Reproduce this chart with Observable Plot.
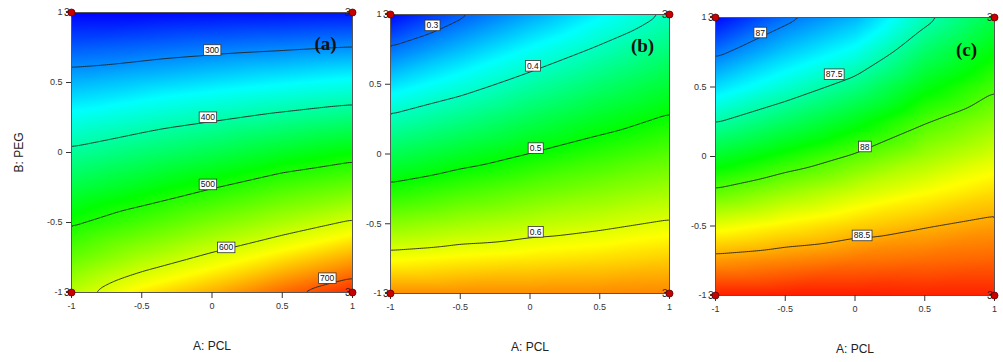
<!DOCTYPE html>
<html><head><meta charset="utf-8">
<script src="https://cdn.jsdelivr.net/npm/d3@7"></script>
<script src="https://cdn.jsdelivr.net/npm/@observablehq/plot@0.6"></script>
<style>
body{margin:0;background:#fff;}
#wrap{position:relative;width:1003px;height:362px;overflow:hidden;background:#fff;}
#wrap svg{position:absolute;top:0;}
</style></head><body><div id="wrap"></div>
<script>
// grid coordinates (coded factor levels)
const gridA = [-1, -0.5, 0, 0.5, 1];
const gridB = [1, 0.75, 0.5, 0.25, 0, -0.25, -0.5, -0.75, -1];

// panel (a): rows = B (top to bottom), columns = A
const valuesA = [
  [231, 232, 236, 238, 241],
  [275, 281, 289, 295, 301],
  [319, 330, 341, 352, 362],
  [363, 379, 394, 409, 422],
  [407, 427, 446, 467, 484],
  [451, 474, 498, 524, 544],
  [494, 523, 553, 579, 605],
  [539, 577, 608, 637, 665],
  [588, 634, 663, 696, 725]
];
const valuesB = [
  [0.252, 0.293, 0.328, 0.366, 0.404],
  [0.304, 0.338, 0.372, 0.405, 0.438],
  [0.355, 0.384, 0.415, 0.444, 0.472],
  [0.407, 0.431, 0.458, 0.483, 0.505],
  [0.458, 0.480, 0.501, 0.520, 0.538],
  [0.509, 0.527, 0.543, 0.557, 0.571],
  [0.561, 0.573, 0.584, 0.593, 0.604],
  [0.612, 0.619, 0.624, 0.629, 0.636],
  [0.664, 0.664, 0.664, 0.665, 0.667]
];
const valuesC = [
  [86.69, 86.95, 87.12, 87.45, 87.70],
  [86.96, 87.17, 87.34, 87.63, 87.84],
  [87.22, 87.40, 87.57, 87.81, 87.98],
  [87.49, 87.64, 87.80, 87.99, 88.12],
  [87.76, 87.89, 88.02, 88.15, 88.26],
  [88.02, 88.13, 88.23, 88.32, 88.40],
  [88.29, 88.36, 88.43, 88.49, 88.54],
  [88.55, 88.59, 88.63, 88.65, 88.67],
  [88.82, 88.82, 88.82, 88.81, 88.81]
];

// contour levels
const levelsA = [300, 400, 500, 600, 700];
const levelsB = [0.3, 0.4, 0.5, 0.6];
const levelsC = [87, 87.5, 88, 88.5];

// contour label texts and their positions (A, B)
const labelTextA = ["300", "400", "500", "600", "700"];
const labelPosA_A = [0, -0.03, -0.03, 0.1, 0.82];
const labelPosA_B = [0.73, 0.25, -0.23, -0.68, -0.9];
const labelTextB = ["0.3", "0.4", "0.5", "0.6"];
const labelPosB_A = [-0.7, 0.02, 0.04, 0.04];
const labelPosB_B = [0.92, 0.63, 0.04, -0.56];
const labelTextC = ["87", "87.5", "88", "88.5"];
const labelPosC_A = [-0.68, -0.15, 0.07, 0.05];
const labelPosC_B = [0.89, 0.59, 0.07, -0.57];

// colour scale stops (value -> blue, cyan, green, yellow, red)
const colorStops = ["#0000ff", "#00ffff", "#00ff00", "#ffff00", "#ff0000"];
const colorDomainA = [231, 355, 485, 625, 745];
const colorDomainB = [0.25, 0.37, 0.5, 0.615, 0.725];
const colorDomainC = [86.68, 87.3, 87.85, 88.33, 88.88];

// design points (corners) with replicate counts
const cornerA = [-1, 1, -1, 1];
const cornerB = [1, 1, -1, -1];
const cornerN = ["3", "3", "3", "3"];

// ticks
const xTicks = [-1, -0.5, 0, 0.5, 1];
const xTickLabels = ["-1", "-0.5", "0", "0.5", "1"];
const yTicks = [-1, -0.5, 0, 0.5, 1];
const yTickLabels = ["-1", "-0.5", "0", "0.5", "1"];

const xTitle = "A: PCL";
const yTitle = "B: PEG";
const panelTags = ["(a)", "(b)", "(c)"];

const FONT = "Arial, 'Liberation Sans', sans-serif";
const SERIF = "'Times New Roman', 'Liberation Serif', serif";
const LABEL_INK = "#0f0f0f";

const panels = [
  {values: valuesA, levels: levelsA, lt: labelTextA, la: labelPosA_A, lb: labelPosA_B, dom: colorDomainA, tag: panelTags[0],
   left: 0, width: 362, mt: 12, mb: 70, ml: 71, mr: 10, tagDx: -27, tagDy: 31, yTitle: true},
  {values: valuesB, levels: levelsB, lt: labelTextB, la: labelPosB_A, lb: labelPosB_B, dom: colorDomainB, tag: panelTags[1],
   left: 320, width: 360, mt: 14, mb: 69, ml: 70, mr: 11, tagDx: -27, tagDy: 31, yTitle: false},
  {values: valuesC, levels: levelsC, lt: labelTextC, la: labelPosC_A, lb: labelPosC_B, dom: colorDomainC, tag: panelTags[2],
   left: 645, width: 358, mt: 17, mb: 67, ml: 70, mr: 9, tagDx: -28, tagDy: 32, yTitle: false}
];

const wrap = document.getElementById("wrap");

panels.forEach(cfg => {
  const data = [];
  gridB.forEach((b, i) => gridA.forEach((a, j) => data.push({A: a, B: b, v: cfg.values[i][j]})));
  const labels = cfg.lt.map((t, i) => ({t, A: cfg.la[i], B: cfg.lb[i]}));
  const corners = cornerA.map((a, i) => ({A: a, B: cornerB[i], n: cornerN[i]}));
  const marks = [
    Plot.raster(data, {x: "A", y: "B", fill: "v", interpolate: "barycentric", x1: -1, x2: 1, y1: -1, y2: 1}),
    Plot.contour(data, {x: "A", y: "B", value: "v", interpolate: "barycentric", thresholds: cfg.levels,
      x1: -1, x2: 1, y1: -1, y2: 1, blur: 2, fill: "none", stroke: "#222", strokeWidth: 0.9}),
    Plot.frame({stroke: "#555", strokeWidth: 1}),
    Plot.axisX(xTicks, {tickFormat: d => xTickLabels[xTicks.indexOf(d)], tickSize: 6, tickPadding: 4,
      fontSize: 9, color: "#333", label: null}),
    Plot.axisY(yTicks, {tickFormat: d => yTickLabels[yTicks.indexOf(d)], tickSize: 5, tickPadding: 4,
      fontSize: 9, color: "#333", label: null}),
    Plot.text(labels, {x: "A", y: "B", text: "t", fontSize: 8.5, fill: LABEL_INK, lineAnchor: "middle"}),
    Plot.text(corners, {x: "A", y: "B", text: "n", fontSize: 10, fill: "#222", textAnchor: "end", dx: -2, lineAnchor: "middle"}),
    Plot.dot(corners, {x: "A", y: "B", r: 3.5, fill: "#c80000", stroke: "#5a0000", strokeWidth: 0.8}),
    Plot.text([cfg.tag], {frameAnchor: "top-right", text: d => d, dx: cfg.tagDx, dy: cfg.tagDy, textAnchor: "middle",
      lineAnchor: "middle", fontSize: 19, fontWeight: "bold", fontFamily: SERIF, fill: "#111"}),
    Plot.text([xTitle], {frameAnchor: "bottom", text: d => d, dy: 54, lineAnchor: "middle", fontSize: 12, fill: "#222"})
  ];
  if (cfg.yTitle) {
    marks.push(Plot.text([yTitle], {frameAnchor: "left", text: d => d, dx: -52.7, rotate: -90, lineAnchor: "middle",
      textAnchor: "middle", fontSize: 12, fill: "#222"}));
  }
  const svg = Plot.plot({
    width: cfg.width, height: 362,
    marginTop: cfg.mt, marginBottom: cfg.mb, marginLeft: cfg.ml, marginRight: cfg.mr,
    style: {fontFamily: FONT, fontSize: "9px", background: "transparent", overflow: "visible"},
    x: {domain: [-1, 1]},
    y: {domain: [-1, 1]},
    color: {type: "linear", domain: cfg.dom, range: colorStops, interpolate: "rgb", clamp: true},
    marks
  });
  svg.style.left = cfg.left + "px";
  wrap.appendChild(svg);
  svg.querySelectorAll('g[fill="' + LABEL_INK + '"] text').forEach(t => {
    const bb = t.getBBox();
    const r = document.createElementNS("http://www.w3.org/2000/svg", "rect");
    r.setAttribute("x", bb.x - 1.5);
    r.setAttribute("y", bb.y - 0.3);
    r.setAttribute("width", bb.width + 3);
    r.setAttribute("height", bb.height + 0.6);
    r.setAttribute("fill", "#fff");
    r.setAttribute("stroke", "#333");
    r.setAttribute("stroke-width", "0.8");
    const tr = t.getAttribute("transform");
    if (tr) r.setAttribute("transform", tr);
    t.parentNode.insertBefore(r, t);
  });
});
</script></body></html>
